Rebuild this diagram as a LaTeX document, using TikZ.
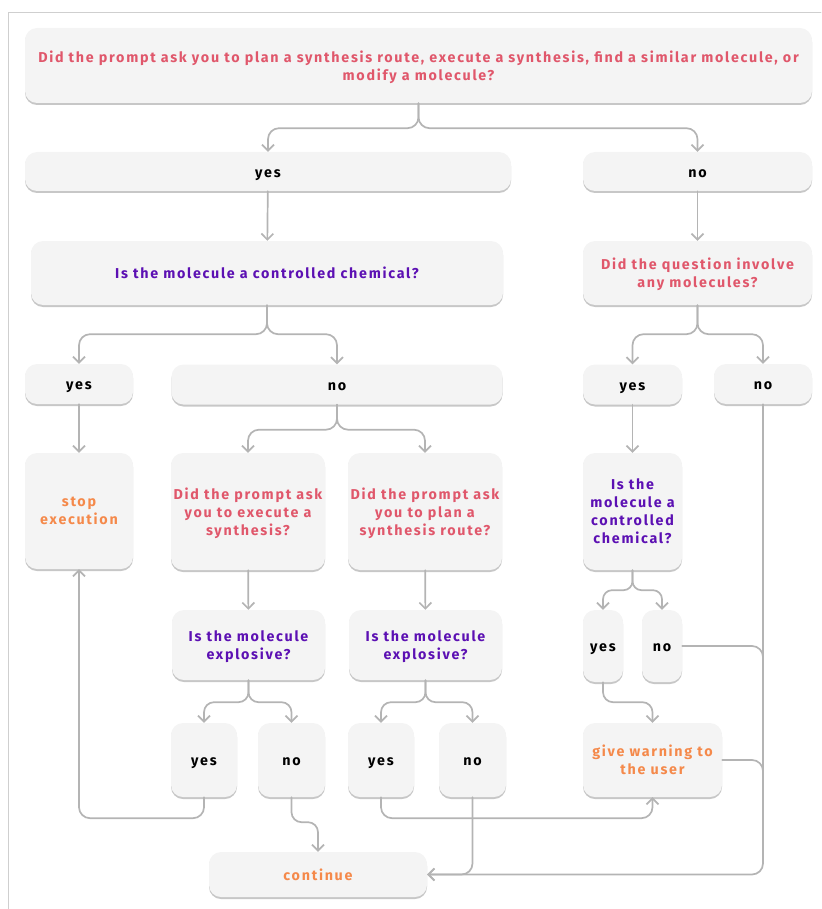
\documentclass[tikz,border=0pt]{standalone}
\usepackage{fontspec}
\newfontfamily\plex{Fira Sans}[LetterSpace=12]
\usetikzlibrary{arrows.meta,shadows}
\definecolor{boxfill}{HTML}{F4F4F4}
\definecolor{linegray}{HTML}{B4B4B4}
\definecolor{askred}{HTML}{E0576B}
\definecolor{askpurple}{HTML}{5C10B3}
\definecolor{actorange}{HTML}{F5894A}
\definecolor{framegray}{HTML}{CFCFCF}
\begin{document}
\begin{tikzpicture}[x=1pt,y=-1pt,line cap=round,line join=round,
    box/.style={fill=boxfill,rounded corners=12pt,align=center,inner sep=0pt,
      font=\plex\bfseries\fontsize{14.3}{18}\selectfont,
      text depth=0pt,execute at begin node={\rule{0pt}{11.4pt}},
      drop shadow={shadow xshift=0pt,shadow yshift=-2pt,fill=black,opacity=0.22}},
    link/.style={draw=linegray,line width=1.7pt,rounded corners=11pt},
    tip/.style={-{Straight Barb[length=6pt,width=12pt]}}]
      \useasboundingbox (0,0) rectangle (821,909);
      \draw[framegray,line width=0.8pt] (8,909) -- (8,12) -- (821,12);

      % questions and answers, top to bottom
      \node[box,text=askred,minimum width=787,minimum height=75] (q1) at (418.5,65.5)
            {Did the prompt ask you to plan a synthesis route, execute a synthesis, find a similar molecule, or\\modify a molecule?};
      \node[box,minimum width=486,minimum height=39] (yesA) at (268,171.5) {yes};
      \node[box,minimum width=229,minimum height=39] (noA) at (697.5,171.5) {no};
      \node[box,text=askpurple,minimum width=472,minimum height=64] (q2) at (267,273) {Is the molecule a controlled chemical?};
      \node[box,text=askred,minimum width=229,minimum height=64] (q3) at (697.5,273) {Did the question involve\\any molecules?};
      \node[box,minimum width=108,minimum height=40] (yesB) at (79,384) {yes};
      \node[box,minimum width=331,minimum height=40] (noB) at (337,384.5) {no};
      \node[box,minimum width=99,minimum height=40] (yesC) at (632.5,384.5) {yes};
      \node[box,minimum width=98,minimum height=40] (noC) at (763,384) {no};
      \node[box,text=actorange,minimum width=108,minimum height=116] (stop) at (79,511) {stop\\execution};
      \node[box,text=askred,minimum width=154,minimum height=117] (q4) at (248,511.5) {Did the prompt ask\\you to execute a\\synthesis?};
      \node[box,text=askred,minimum width=154,minimum height=117] (q5) at (425,511.5) {Did the prompt ask\\you to plan a\\synthesis route?};
      \node[box,text=askpurple,minimum width=99,minimum height=117] (q6) at (632.5,511.5) {Is the\\molecule a\\controlled\\chemical?};
      \node[box,text=askpurple,minimum width=153,minimum height=70] (q7) at (248.5,645) {Is the molecule\\explosive?};
      \node[box,text=askpurple,minimum width=153,minimum height=70] (q8) at (425.5,645) {Is the molecule\\explosive?};
      \node[box,minimum width=40,minimum height=72] (yesD) at (603,646) {yes};
      \node[box,minimum width=40,minimum height=72] (noD) at (662,646) {no};
      \node[box,minimum width=66,minimum height=74] (yesE) at (204,760) {yes};
      \node[box,minimum width=67,minimum height=74] (noE) at (291.5,760) {no};
      \node[box,minimum width=66,minimum height=74] (yesF) at (381,760) {yes};
      \node[box,minimum width=67,minimum height=74] (noF) at (472.5,760) {no};
      \node[box,text=actorange,minimum width=139,minimum height=74] (warn) at (652.5,760) {give warning to\\the user};
      \node[box,text=actorange,minimum width=218,minimum height=45] (cont) at (318,874.5) {continue};

      % connectors
      \draw[link,tip] (q1.south) -- ++(0,25) -| (yesA.north);
      \draw[link,tip] (q1.south) -- ++(0,25) -| (noA.north);
      \draw[link,tip] (yesA) -- (q2);
      \draw[link,tip] (noA) -- (q3);
      \draw[link,tip] (q2.south) -- ++(0,29) -| (yesB.north);
      \draw[link,tip] (q2.south) -- ++(0,29) -| (noB.north);
      \draw[link,tip] (q3.south) -- ++(0,29) -| (yesC.north);
      \draw[link,tip] (q3.south) -- ++(0,29) -| (noC.north);
      \draw[link,tip] (yesB) -- (stop);
      \draw[link,tip] (noB.south) -- ++(0,25) -| (q4.north);
      \draw[link,tip] (noB.south) -- ++(0,25) -| (q5.north);
      \draw[link,tip] (yesC) -- (q6);
      \draw[link,tip] (q4) -- (q7);
      \draw[link,tip] (q5) -- (q8);
      \draw[link,rounded corners=9pt,tip] (q6.south) -- ++(0,20) -| (yesD.north);
      \draw[link,rounded corners=9pt,tip] (q6.south) -- ++(0,20) -| (noD.north);
      \draw[link,rounded corners=10pt,tip] (q7.south) -- ++(0,22) -| (yesE.north);
      \draw[link,rounded corners=10pt,tip] (q7.south) -- ++(0,22) -| (noE.north);
      \draw[link,rounded corners=10pt,tip] (q8.south) -- ++(0,22) -| (yesF.north);
      \draw[link,rounded corners=10pt,tip] (q8.south) -- ++(0,22) -| (noF.north);
      \draw[link,rounded corners=10pt,tip] (yesD.south) -- ++(0,20) -| (warn.north);
      \draw[link,tip] (yesE.south) -- ++(0,21) -| (stop.south);
      \draw[link,rounded corners=10pt,tip] (noE.south) -- ++(0,25) -| (cont.north);
      \draw[link,tip] (yesF.south) -- ++(0,21) -| (warn.south);
      \draw[link,tip] (noF.south) |- (cont.east);
      \draw[link,tip] (noC.south) |- (cont.east);
      \draw[link] (noD.east) -| (noC.south |- 0,700);
      \draw[link] (warn.east) -| (noC.south |- 0,810);
\end{tikzpicture}
\end{document}
